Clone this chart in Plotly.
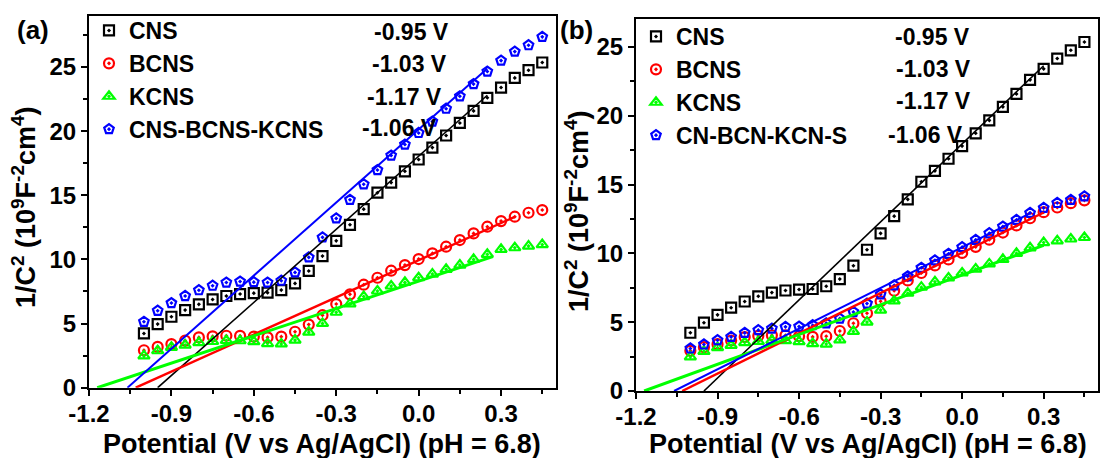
import plotly.graph_objects as go

# ---- data: Mott-Schottky plots, 1/C^2 vs potential ----
potential = [-1.00, -0.95, -0.90, -0.85, -0.80, -0.75, -0.70, -0.65, -0.60, -0.55,
             -0.50, -0.45, -0.40, -0.35, -0.30, -0.25, -0.20, -0.15, -0.10, -0.05,
             0.00, 0.05, 0.10, 0.15, 0.20, 0.25, 0.30, 0.35, 0.40, 0.45]

cns = [4.23, 4.96, 5.53, 6.05, 6.50, 6.88, 7.15, 7.30, 7.37, 7.41,
       7.61, 8.13, 9.10, 10.26, 11.45, 12.70, 13.92, 15.20, 15.99, 16.87,
       17.79, 18.72, 19.66, 20.64, 21.58, 22.60, 23.40, 24.15, 24.75, 25.35]

bcns = [2.92, 3.18, 3.40, 3.67, 3.92, 4.00, 4.05, 4.04, 3.98, 3.93,
        3.98, 4.36, 4.92, 5.65, 6.52, 7.28, 8.03, 8.57, 9.12, 9.56,
        10.03, 10.47, 10.99, 11.51, 12.03, 12.55, 12.99, 13.33, 13.64, 13.85]

kcns = [2.48, 2.88, 3.15, 3.32, 3.52, 3.60, 3.68, 3.66, 3.59, 3.44,
        3.41, 3.71, 4.33, 5.01, 5.88, 6.54, 7.10, 7.54, 7.93, 8.21,
        8.57, 8.86, 9.23, 9.56, 10.00, 10.40, 10.78, 10.91, 11.04, 11.15]

cns_bcns_kcns = [5.14, 6.00, 6.60, 7.15, 7.60, 7.95, 8.20, 8.28, 8.23, 8.20,
                 8.34, 8.99, 10.16, 11.72, 13.20, 14.65, 15.86, 16.97, 18.10, 18.96,
                 19.86, 20.75, 21.75, 22.72, 23.67, 24.65, 25.50, 26.20, 26.70, 27.35]

cn_bcn_kcn_s = [3.09, 3.38, 3.69, 3.93, 4.22, 4.42, 4.54, 4.66, 4.68, 4.78,
                4.92, 5.26, 5.74, 6.35, 7.02, 7.68, 8.33, 8.95, 9.49, 9.97,
                10.45, 10.98, 11.46, 11.95, 12.43, 12.94, 13.30, 13.66, 13.88, 14.14]

names_a = ["CNS", "BCNS", "KCNS", "CNS-BCNS-KCNS"]
names_b = ["CNS", "BCNS", "KCNS", "CN-BCN-KCN-S"]

# flat-band potentials (x-intercepts of the linear fits), V vs Ag/AgCl
efb_a = [-0.95, -1.03, -1.17, -1.06]
efb_b = [-0.95, -1.03, -1.17, -1.06]
# slopes and end points of the linear fits
slope_a = [19.0, 9.65, 7.1, 19.0]
fit_end_a = [0.25, 0.35, 0.27, 0.25]
slope_b = [18.9, 9.75, 7.2, 9.85]
fit_end_b = [0.30, 0.30, 0.30, 0.25]

x_ticks = [-1.2, -0.9, -0.6, -0.3, 0.0, 0.3]
x_tick_text = ["-1.2", "-0.9", "-0.6", "-0.3", "0.0", "0.3"]
y_ticks = [0, 5, 10, 15, 20, 25]

colors = ["#000000", "#ff0000", "#00ff00", "#0000ff"]
symbols = ["square-open-dot", "circle-open-dot", "triangle-up-open-dot", "pentagon-open-dot"]
line_widths = [1.6, 2.4, 3.0, 2.0]

FONT = "Liberation Sans, Arial, sans-serif"
W, H = 1101, 458


def px_x(x):
    return x / W


def px_y(y):
    return 1 - y / H


fig = go.Figure()

series_a = [cns, bcns, kcns, cns_bcns_kcns]
series_b = [cns, bcns, kcns, cn_bcn_kcn_s]

panels = [
    ("x", "y", "legend", names_a, series_a, efb_a, slope_a, fit_end_a),
    ("x2", "y2", "legend2", names_b, series_b, efb_b, slope_b, fit_end_b),
]

for xa, ya, leg, names, series, efb, slopes, ends in panels:
    for i in range(4):
        fig.add_trace(go.Scatter(
            x=potential, y=series[i], mode="markers", name=names[i],
            xaxis=xa, yaxis=ya, legend=leg,
            marker=dict(symbol=symbols[i], size=10, color=colors[i],
                        line=dict(width=2.2, color=colors[i])),
            cliponaxis=False,
        ))
    for i in range(4):
        x0, x1 = efb[i], ends[i]
        fig.add_trace(go.Scatter(
            x=[x0, x1], y=[0.0, slopes[i] * (x1 - x0)], mode="lines",
            xaxis=xa, yaxis=ya, showlegend=False,
            line=dict(color=colors[i], width=line_widths[i]),
        ))

axis_common = dict(
    showline=True, mirror=True, linecolor="black", linewidth=2,
    ticks="outside", ticklen=6, tickwidth=2, tickcolor="black",
    showgrid=False, zeroline=False, automargin=False,
    tickfont=dict(family=FONT, size=24, color="black", weight="bold"),
)

x_minor = dict(ticks="outside", ticklen=4, tickwidth=2, tickcolor="black", dtick=0.15, tick0=-1.2)
y_minor = dict(ticks="outside", ticklen=4, tickwidth=2, tickcolor="black", dtick=2.5, tick0=0)

legend_font = dict(family=FONT, size=23, color="black", weight="bold")

fig.update_layout(
    template="none",
    width=W, height=H, autosize=False,
    margin=dict(l=0, r=0, t=0, b=0, pad=0),
    paper_bgcolor="white", plot_bgcolor="white",
    xaxis=dict(domain=[px_x(89), px_x(556)], range=[-1.2, 0.5], anchor="y",
               tickvals=x_ticks, ticktext=x_tick_text, minor=x_minor,
               ticklabelstandoff=-3, **axis_common),
    yaxis=dict(domain=[px_y(387.7), px_y(15.7)], range=[0, 29], anchor="x",
               tickvals=y_ticks, minor=y_minor, **axis_common),
    xaxis2=dict(domain=[px_x(636), px_x(1098)], range=[-1.2, 0.5], anchor="y2",
                tickvals=x_ticks, ticktext=x_tick_text, minor=x_minor,
                ticklabelstandoff=-3, **axis_common),
    yaxis2=dict(domain=[px_y(391), px_y(19.3)], range=[0, 27], anchor="x2",
                tickvals=y_ticks, minor=y_minor, **axis_common),
    legend=dict(x=px_x(89), y=px_y(9), xanchor="left", yanchor="top",
                bgcolor="rgba(0,0,0,0)", tracegroupgap=0, font=legend_font),
    legend2=dict(x=px_x(636), y=px_y(15), xanchor="left", yanchor="top",
                 bgcolor="rgba(0,0,0,0)", tracegroupgap=0, font=legend_font),
    showlegend=True,
)

ann = []
title_font = dict(family=FONT, size=27, color="black")
xtitle = "<b>Potential (V vs Ag/AgCl) (pH = 6.8)</b>"
ytitle = "<b>1/C<sup>2</sup> (10<sup>9</sup>F<sup>-2</sup>cm<sup>4</sup>)</b>"
ann.append(dict(text=xtitle, x=px_x(322), y=px_y(444), xref="paper", yref="paper",
                xanchor="center", yanchor="middle", showarrow=False, font=title_font))
ann.append(dict(text=xtitle, x=px_x(868), y=px_y(444), xref="paper", yref="paper",
                xanchor="center", yanchor="middle", showarrow=False, font=title_font))
ann.append(dict(text=ytitle, x=px_x(24), y=px_y(208), xref="paper", yref="paper",
                xanchor="center", yanchor="middle", textangle=-90, showarrow=False, font=title_font))
ann.append(dict(text=ytitle, x=px_x(577), y=px_y(212), xref="paper", yref="paper",
                xanchor="center", yanchor="middle", textangle=-90, showarrow=False, font=title_font))
ann.append(dict(text="<b>(a)</b>", x=px_x(33), y=px_y(30), xref="paper", yref="paper",
                xanchor="center", yanchor="middle", showarrow=False,
                font=dict(family=FONT, size=26, color="black")))
ann.append(dict(text="<b>(b)</b>", x=px_x(576), y=px_y(30), xref="paper", yref="paper",
                xanchor="center", yanchor="middle", showarrow=False,
                font=dict(family=FONT, size=26, color="black")))

# flat-band potential values next to the legend entries
val_x_a = [372, 370, 365, 360]
val_y_a = [31.6, 64.5, 96.5, 128.5]
val_x_b = [893, 894, 894, 886]
val_y_b = [37, 69, 101, 135]
for efb, xs, ys in [(efb_a, val_x_a, val_y_a), (efb_b, val_x_b, val_y_b)]:
    for v, xp, yp in zip(efb, xs, ys):
        ann.append(dict(text=f"<b>{v:.2f} V</b>", x=px_x(xp), y=px_y(yp),
                        xref="paper", yref="paper", xanchor="left", yanchor="middle",
                        showarrow=False, font=dict(family=FONT, size=23, color="black")))

fig.update_layout(annotations=ann)
fig.write_html("out.html")
